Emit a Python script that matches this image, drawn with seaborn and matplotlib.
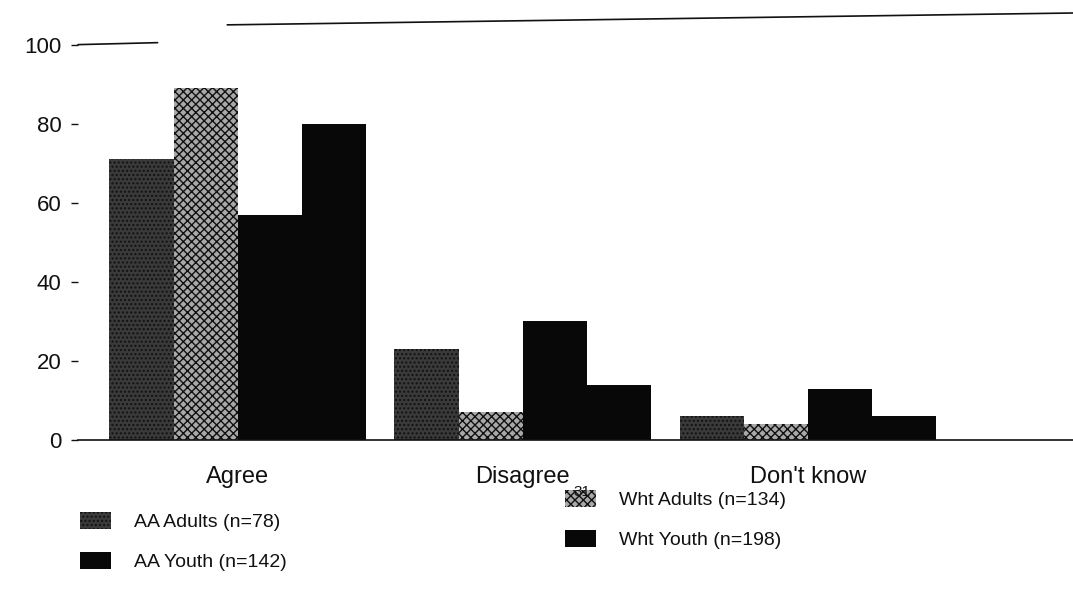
import matplotlib
matplotlib.use("Agg")
import matplotlib.pyplot as plt
import seaborn as sns
import pandas as pd
from matplotlib.patches import Patch

categories = ["Agree", "Disagree", "Don't know"]
groups = ["AA Adults (n=78)", "Wht Adults (n=134)", "AA Youth (n=142)", "Wht Youth (n=198)"]
aa_adults = [71, 23, 6]
wht_adults = [89, 7, 4]
aa_youth = [57, 30, 13]
wht_youth = [80, 14, 6]
y_ticks = [0, 20, 40, 60, 80, 100]

series = [aa_adults, wht_adults, aa_youth, wht_youth]
rows = []
for g, vals in zip(groups, series):
    for c, v in zip(categories, vals):
        rows.append({"category": c, "group": g, "value": v})
df = pd.DataFrame(rows)

colors = ["#3a3a3a", "#a8a8a8", "#080808", "#080808"]
hatches = ["....", "xxxx", "", ""]
palette = dict(zip(groups, colors))

sns.set_theme(style="white")
plt.rcParams["font.family"] = ["Liberation Sans", "DejaVu Sans"]

fig = plt.figure(figsize=(10.73, 6.16), dpi=100)
ax = fig.add_axes([78 / 1073, 1 - 440 / 616, 1 - 78 / 1073, (440 - 13) / 616])

sns.barplot(data=df, x="category", y="value", hue="group", order=categories,
            hue_order=groups, palette=palette, width=0.9, dodge=True,
            saturation=1, edgecolor="none", linewidth=0, legend=False, ax=ax)

for container, h in zip(ax.containers, hatches):
    for bar in container:
        if h:
            bar.set_hatch(h)
            bar.set_edgecolor("#111111")
            bar.set_linewidth(0)

ax.set_ylim(0, 108)
ax.set_xlim(-0.56, 2.93)
ax.set_yticks(y_ticks)
ax.set_yticklabels([str(t) for t in y_ticks], fontsize=16)
ax.set_xlabel("")
ax.set_ylabel("")
ax.tick_params(axis="y", left=True, length=5, width=1, pad=7, colors="#111111",
               labelcolor="#111111")
ax.tick_params(axis="x", bottom=False, pad=13, labelcolor="#111111")
for lab in ax.get_xticklabels():
    lab.set_fontsize(17)

for s in ["left", "right", "top"]:
    ax.spines[s].set_visible(False)
ax.spines["bottom"].set_color("#111111")
ax.spines["bottom"].set_linewidth(1.2)

# short reference line at 100 and the long top rule seen in the scan
ax.plot([0, 0.08], [100, 100.5], transform=ax.get_yaxis_transform(), color="#111111",
        lw=1.2, clip_on=False)
ax.plot([0.15, 1.0], [105, 108], transform=ax.get_yaxis_transform(), color="#111111",
        lw=1.2, clip_on=False)

handles = [Patch(facecolor=c, hatch=h, edgecolor="#111111", linewidth=0) for c, h in zip(colors, hatches)]
labels = ["AA Adults (n=78)", "Wht Adults (n=134)", "AA Youth (n=142)", "Wht Youth (n=198)"]

leg_kw = dict(frameon=False, fontsize=14, handlelength=1.6, handleheight=1.0,
              handletextpad=1.2, labelspacing=1.05, borderpad=0, borderaxespad=0,
              loc="upper left", bbox_transform=fig.transFigure)
leg1 = ax.legend([handles[0], handles[2]], [labels[0], labels[2]],
                 bbox_to_anchor=(80 / 1073, 1 - 512 / 616), **leg_kw)
ax.add_artist(leg1)
leg2 = ax.legend([handles[1], handles[3]], [labels[1], labels[3]],
                 bbox_to_anchor=(565 / 1073, 1 - 490 / 616), **leg_kw)
for leg in (leg1, leg2):
    for t in leg.get_texts():
        t.set_color("#111111")

fig.text(573 / 1073, 1 - 496 / 616, "31", fontsize=11, color="#111111", zorder=0)

fig.savefig("out.png", dpi=100)
